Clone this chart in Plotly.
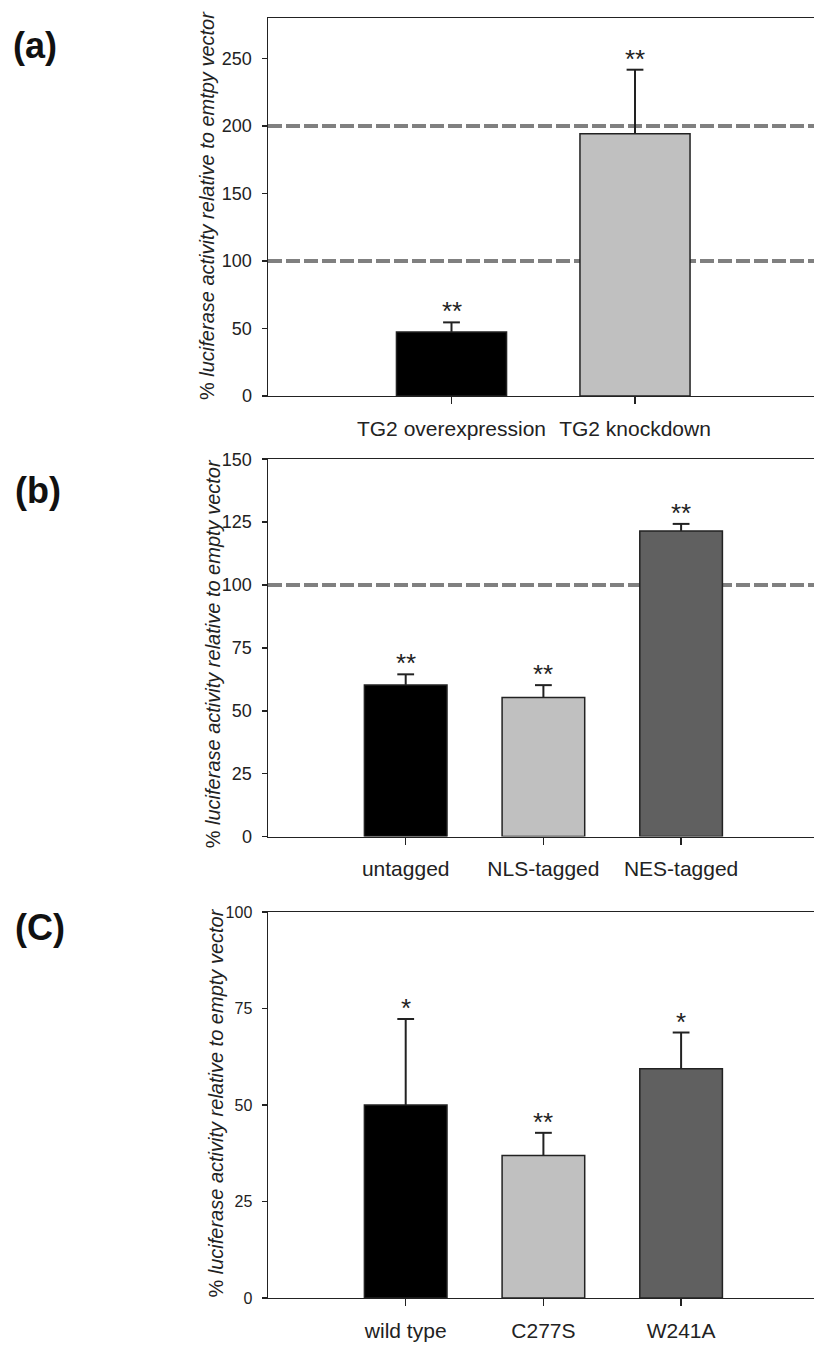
import plotly.graph_objects as go

# ---------------- data ----------------
cats_a = ["TG2 overexpression", "TG2 knockdown"]
mean_a = [47.4, 194.3]
err_a = [7.1, 47.5]
stars_a = ["**", "**"]
ref_a = [100, 200]
yticks_a = [0, 50, 100, 150, 200, 250]

cats_b = ["untagged", "NLS-tagged", "NES-tagged"]
mean_b = [60.3, 55.3, 121.5]
err_b = [4.2, 4.9, 2.8]
stars_b = ["**", "**", "**"]
ref_b = [100]
yticks_b = [0, 25, 50, 75, 100, 125, 150]

cats_c = ["wild type", "C277S", "W241A"]
mean_c = [50.0, 36.9, 59.4]
err_c = [22.3, 5.9, 9.4]
stars_c = ["*", "**", "*"]
ref_c = []
yticks_c = [0, 25, 50, 75, 100]

colors = ["#000000", "#c0c0c0", "#606060"]

title_a = "% <i>luciferase activity relative to emtpy vector</i>"
title_b = "% <i>luciferase activity relative to empty vector</i>"
title_c = "% <i>luciferase activity relative to empty vector</i>"
panel_labels = ["(a)", "(b)", "(C)"]

# ---------------- layout geometry ----------------
W, H = 814, 1351
FONT = "Liberation Sans, Arial, sans-serif"
AX = "#222222"


def px(x):
    return x / W


def py(y):
    return 1 - y / H


LEFT = 268
R_UNIT_A = 183.5
R_UNIT_B = 137.7

panels = [
    dict(cats=cats_a, mean=mean_a, err=err_a, stars=stars_a, ref=ref_a, yt=yticks_a,
         yr=[0, 280], xr=[-1, -1 + (W - LEFT) / R_UNIT_A], dom=[py(391.7), py(8.3)],
         title=title_a, tx=207, ty=199, lab=panel_labels[0], lx=35, ly=36, tickfs=18),
    dict(cats=cats_b, mean=mean_b, err=err_b, stars=stars_b, ref=ref_b, yt=yticks_b,
         yr=[0, 150], xr=[-1, -1 + (W - LEFT) / R_UNIT_B], dom=[py(839), py(456)],
         title=title_b, tx=213, ty=654, lab=panel_labels[1], lx=38, ly=488, tickfs=18),
    dict(cats=cats_c, mean=mean_c, err=err_c, stars=stars_c, ref=ref_c, yt=yticks_c,
         yr=[0, 100], xr=[-1, -1 + (W - LEFT) / R_UNIT_B], dom=[py(1307.3), py(915.7)],
         title=title_c, tx=216, ty=1109, lab=panel_labels[2], lx=40, ly=931, tickfs=16),
]

fig = go.Figure()
annotations = []
shapes = []
layout = {}

for i, p in enumerate(panels):
    n = i + 1
    xa = "x" if n == 1 else f"x{n}"
    ya = "y" if n == 1 else f"y{n}"
    xs = list(range(len(p["cats"])))
    fig.add_trace(go.Bar(
        x=xs, y=p["mean"], width=0.6,
        marker=dict(color=colors[:len(xs)], line=dict(color="#222222", width=1.5)),
        xaxis=xa, yaxis=ya, showlegend=False, hoverinfo="skip",
    ))
    # upper-only error bars: stem from the bar top to mean + error, with a cap
    ex, ey = [], []
    for xi, m, e in zip(xs, p["mean"], p["err"]):
        ex += [xi, xi, None]
        ey += [m, m + e, None]
    fig.add_trace(go.Scatter(
        x=ex, y=ey, mode="lines", line=dict(color="#222222", width=2),
        xaxis=xa, yaxis=ya, showlegend=False, hoverinfo="skip",
    ))
    fig.add_trace(go.Scatter(
        x=xs, y=[m + e for m, e in zip(p["mean"], p["err"])], mode="markers",
        marker=dict(symbol="line-ew", size=12, line=dict(color="#222222", width=2)),
        xaxis=xa, yaxis=ya, showlegend=False, hoverinfo="skip", cliponaxis=False,
    ))
    xkey = "xaxis" if n == 1 else f"xaxis{n}"
    ykey = "yaxis" if n == 1 else f"yaxis{n}"
    layout[xkey] = dict(
        domain=[px(LEFT), 1], range=p["xr"], anchor=ya,
        tickmode="array", tickvals=xs, ticktext=p["cats"],
        showline=True, linecolor=AX, linewidth=1.5, mirror=True,
        ticks="outside", ticklen=7, tickwidth=1.5, tickcolor=AX,
        showgrid=False, zeroline=False, fixedrange=True,
        tickfont=dict(family=FONT, size=21, color="#222222"),
        ticklabelstandoff=6,
    )
    layout[ykey] = dict(
        domain=p["dom"], range=p["yr"], anchor=xa,
        tickmode="array", tickvals=p["yt"],
        showline=True, linecolor=AX, linewidth=1.5, mirror=False,
        ticks="outside", ticklen=5, tickwidth=1.5, tickcolor=AX,
        showgrid=False, zeroline=False, fixedrange=True,
        tickfont=dict(family=FONT, size=p["tickfs"], color="#222222"),
        ticklabelstandoff=6,
    )
    for r in p["ref"]:
        shapes.append(dict(type="line", xref=f"{xa} domain", yref=ya,
                           x0=0, x1=1, y0=r, y1=r, layer="below",
                           line=dict(color="#808080", width=4, dash="14px,4px")))
    for xi, m, e, s in zip(xs, p["mean"], p["err"], p["stars"]):
        annotations.append(dict(x=xi, y=m + e, xref=xa, yref=ya, text=s,
                                showarrow=False, yanchor="bottom", yshift=-6,
                                font=dict(family=FONT, size=26, color="#222222")))
    annotations.append(dict(x=px(p["tx"]), y=py(p["ty"]), xref="paper", yref="paper",
                            text=p["title"], textangle=-90, showarrow=False,
                            xanchor="center", yanchor="middle",
                            font=dict(family=FONT, size=20, color="#222222")))
    annotations.append(dict(x=px(p["lx"]), y=py(p["ly"]), xref="paper", yref="paper",
                            text=f"<b>{p['lab']}</b>", showarrow=False,
                            xanchor="center", yanchor="middle",
                            font=dict(family=FONT, size=36, color="#111111")))

fig.update_layout(
    width=W, height=H, margin=dict(l=0, r=0, t=0, b=0),
    paper_bgcolor="white", plot_bgcolor="white",
    annotations=annotations, shapes=shapes, bargap=0,
    **layout,
)

fig.write_html(
    "out.html",
    config={"displayModeBar": False, "staticPlot": True},
    post_script="document.body.style.margin='0';document.body.style.overflow='hidden';",
)
